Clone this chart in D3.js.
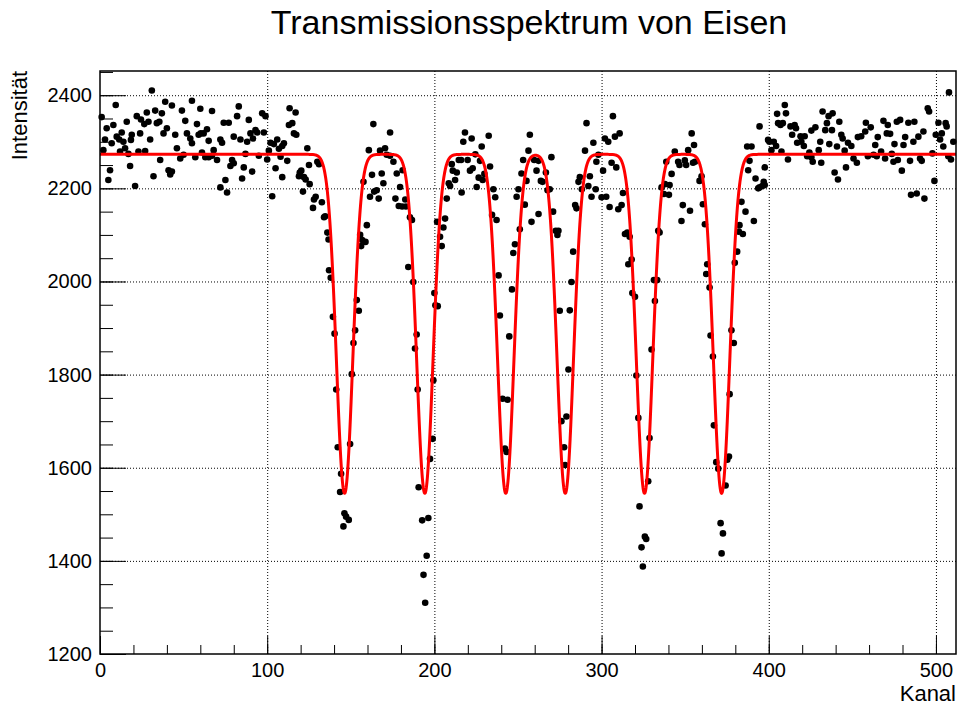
<!DOCTYPE html>
<html>
<head>
<meta charset="utf-8">
<script src="https://cdn.jsdelivr.net/npm/d3@7/dist/d3.min.js"></script>
<style>
  html, body { margin: 0; padding: 0; background: #fff; }
  svg { display: block; }
  text { font-family: "Liberation Sans", Arial, Helvetica, sans-serif; fill: #000; }
</style>
</head>
<body>
<svg id="chart" width="960" height="709"></svg>
<script>
// Measured spectrum: channel number and counts
const kanal = [
  1,2,3,4,5,6,7,8,9.4,10,11.5,12,13,14,15,16,17,18,18.5,19,21,22,23,24,24.5,26.5,27,28,29,30,
  31,32,33,34,35.5,36,37,38,39,40,41,42,43,43,45,46,48,49,50,51,52,54,55,55,57,58,59,60,60.3,61,
  62,63,64,65,65,67,67,68,70,72,72,73,74,75,76,77,78,79,80,80,82,83,84,85,86,
  87,88,89,90,91,91.5,93,94,95,97,98,99,100,101,102,103,104,105,106,107,108,109,109,110,112,113,113.4,
  115,116,117,117.4,119,119.5,120.4,121.4,122,123,124,125,125.4,127.4,128,129,130,131,132.7,134,134.7,
  136,136.7,137,138,
  139.3,140.3,141.3,142.2,143.6,144.2,145.6,146.2,147.2,148.8,149.6,150.6,151.6,152.6,153.6,154.8,
  155.6,156.2,156.8,157.6,158.8,159.6,160.8,161.5,162.7,163.5,164,165.5,166.7,167.5,168.5,169.5,
  170.5,171.5,173.5,173.5,175.5,176.7,177.5,178.7,179.5,180.7,181,182.6,183,184.4,185.4,186.6,
  187.4,188.4,189.4,190,190.6,
  192.7,193.5,194.5,195.4,196.4,197.4,199,199.4,200,200.6,201.6,202,203.4,204.4,205.4,206.4,207.4,
  208.6,209.4,210.4,211,212.4,213.4,214.6,216,216.3,217.3,218.3,219.9,221.3,222.3,222.9,224.5,225.3,
  226.5,227.3,228.3,228.9,229.9,232.5,233.3,234.5,235.3,236.4,237.2,238.4,239.2,240.8,242.2,243.2,
  243.8,244.8,
  246.4,247.2,248.2,249.2,250.3,251.1,252.1,253.1,254.1,255.1,256.3,257.1,258.1,259.7,261.1,262.3,
  262.3,263.7,264.7,266.7,267.7,269,270,271,272.6,273.6,274.2,275,276,277.6,278.2,279,280.2,281,282,
  283,284.2,285,286.2,287,288.2,290.1,291,292.1,293,294,295.1,296.5,296.9,298.1,
  300,300.9,302,302.8,304,304.8,306,306.8,308,308.8,310,310.8,312,312.8,314,315.4,316,316.8,318,318.4,
  320,320.8,322,322.7,323.9,324.7,325.9,326.7,327.9,328.7,329.9,331.3,331.9,333.3,333.9,334.7,335.9,
  337.3,337.9,338.7,340.3,340.7,341.9,343.8,345.8,346.6,347.8,348.6,349.8,350.6,351.8,
  352.9,353.9,354.7,355.3,355.9,358.6,359.8,360.6,361.8,362.6,363.2,364.6,365.2,366.6,367.2,368.6,
  369.8,371.2,371.8,372.6,374.2,375.2,376.2,376.6,377.7,379.1,379.7,381.1,382.1,382.5,383.7,384.5,
  386.1,387.1,387.7,388.5,389.7,391.1,392.1,393.7,394.5,394.5,396.1,397,397.6,397.6,399.6,400.4,
  401.6,403,404.4,405,405.6,
  407,407.6,408.4,409.6,410.3,411.5,413,414,415.5,416.3,417,419,419.5,421,421.5,423,424.3,425.5,425.5,
  426.3,427.9,429.9,430.8,431.4,432.2,433.8,434.8,435.8,436.2,437.8,438.2,439.4,440.8,441.4,442.2,
  443.4,444.2,445.4,446.2,447.4,449.4,450.7,452.7,453.3,455.3,457.7,458.1,459.3,
  461,462.7,463.7,464.6,465.2,467.2,468.6,469.6,470.6,471.2,472.6,473.6,474.6,475.2,476.6,477.2,
  478.6,479.6,480.6,481.6,483.5,484.5,485.1,486.5,487.1,488.5,489.5,490.5,491.5,492.5,493.1,495.1,
  495.9,497.9,499.1,499.9,501.5,502.5,503.5,504.4,505.8,506.4,507.4,507.8,509,510.4
];
const intensitaet = [
  2353,2282,2305,2329,2218,2239,2297,2336,2379,2311,2305,2279,2320,2300,2286,2343,2274,2248,2304,2315,
  2205,2355,2279,2318,2348,2338,2280,2363,2343,2305,
  2410,2226,2367,2340,2343,2261,2361,2318,2386,2329,2239,2230,2378,2236,2315,2286,2264,2367,2272,2345,
  2318,2307,2388,2297,2267,2338,2315,2371,2318,2277,
  2318,2267,2327,2302,2267,2366,2270,2282,2261,2305,2202,2298,2341,2218,2191,2341,2248,2261,2311,2254,
  2355,2376,2305,2221,2245,
  2274,2300,2347,2318,2236,2307,2325,2320,2270,2361,2320,2355,2262,2281,2298,2183,2295,2243,2305,2285,
  2268,2291,2224,2297,2259,2336,2372,
  2340,2318,2363,2315,2226,2234,2238,2193,2224,2219,2286,2250,2209,2158,2176,2182,2257,2252,2170,2138,
  2140,
  2105,2090,2024,2008,
  1924,1888,1768,1644,1548,1587,1474,1502,1495,1488,1651,1801,1868,1895,1960,1937,
  2100,2076,2089,2214,2085,2121,2282,2182,2229,2338,2193,2196,2178,2281,2232,2211,
  2286,2272,2270,2320,2257,2178,2232,2162,2203,2161,2239,2176,2161,2031,2138,2132,
  1999,1856,1886,1768,1558,
  1487,1370,1310,1411,1492,1619,1662,1788,1975,1949,2128,1947,2096,2076,2116,2135,2178,
  2211,2205,2252,2238,2218,2234,2261,2261,2191,2300,2320,2261,2238,2307,2243,2273,2203,
  2223,2259,2290,2218,2231,2313,2247,2143,2198,2181,2132,2013,1927,1748,1641,1634,
  1746,1882,
  1983,2061,2080,2182,2198,2112,2232,2261,2165,2216,2281,2315,2128,2261,2238,2145,
  2259,2216,2214,2234,2196,2198,2267,2150,2109,2100,2109,1937,1700,1644,1606,1710,1811,1938,1999,
  2064,2164,2157,2214,2224,2198,2281,2340,2205,2226,2182,2298,2198,2257,2272,
  2181,2238,2307,2182,2300,2160,2255,2355,2311,2245,2155,2318,2164,2190,2102,2105,2037,2096,2047,1975,
  1967,1798,1707,1517,1429,1388,1452,1447,1571,1664,1854,2003,1958,2003,2109,2105,2202,
  2188,2209,2257,2186,2207,2231,2279,2257,2250,2130,2164,2260,2250,2282,
  2152,2318,2255,2293,2257,2216,2226,2166,2123,2016,2037,1987,1884,1839,1691,1612,
  1598,1481,1416,1459,1562,1617,1624,1758,1895,1868,2040,2064,2107,2121,2171,2102,
  2150,2290,2239,2259,2290,2130,2221,2200,2202,2333,2205,2214,2207,2245,2304,2300,
  2282,2300,2291,2360,2340,
  2336,2279,2340,2379,2361,2262,2333,2315,2336,2329,2298,2312,2300,2291,2312,2269,2277,2267,2324,
  2257,2331,2282,2300,2255,2365,2325,2340,2355,2295,2325,2361,2234,2290,2219,2343,
  2315,2307,2281,2245,2298,2291,2264,2255,2310,2312,2322,2341,2269,
  2331,2272,2293,2269,2310,2279,2345,2264,2318,2336,2317,2274,2257,2295,2343,2261,
  2347,2238,2293,2310,2341,2259,2186,2300,2343,2189,2311,2264,2259,2322,2178,2372,
  2365,2275,2216,2315,2341,2305,2318,2290,2340,2333,2269,2406,2262,2300
];

// Axis ticks
const xMajorTicks = [0, 100, 200, 300, 400, 500];
const xMinorTicks = d3.range(0, 512, 20);
const yMajorTicks = [1200, 1400, 1600, 1800, 2000, 2200, 2400];
const yMinorTicks = d3.range(1200, 2452, 50);

// Fit result: flat background with six Gaussian absorption lines
const fitBaseline = 2273;
const lineCenters = [146.3, 194.3, 242.7, 278.3, 325.7, 371.8];
const lineDepths  = [728, 728, 728, 728, 728, 728];
const lineSigmas  = [4.9, 4.9, 4.9, 4.9, 4.9, 4.9];

const titleText = "Transmissionsspektrum von Eisen";
const xTitle = "Kanal";
const yTitle = "Intensität";

const svg = d3.select("#chart");
const frameLeft = 100, frameRight = 956, frameTop = 71, frameBottom = 654;

const x = d3.scaleLinear().domain([0, 512]).range([frameLeft, frameRight]);
const y = d3.scaleLinear().domain([1200, 2452]).range([frameBottom, frameTop]);

// Grid (dotted, at major ticks)
const grid = svg.append("g").attr("class", "grid");
grid.append("g")
  .attr("transform", `translate(0,${frameBottom})`)
  .call(d3.axisBottom(x).tickValues(xMajorTicks.filter(d => d > 0))
    .tickSize(-(frameBottom - frameTop)).tickFormat(""))
  .call(g => g.select(".domain").remove());
grid.append("g")
  .attr("transform", `translate(${frameLeft},0)`)
  .call(d3.axisLeft(y).tickValues(yMajorTicks.filter(d => d > 1200))
    .tickSize(-(frameRight - frameLeft)).tickFormat(""))
  .call(g => g.select(".domain").remove());
grid.selectAll("line")
  .attr("stroke", "#000").attr("stroke-width", 1).attr("stroke-dasharray", "1,2");

// Data points
const points = kanal.map((k, i) => [k, intensitaet[i]]).filter(d => d[1] !== undefined);
svg.append("g").selectAll("circle")
  .data(points)
  .join("circle")
  .attr("cx", d => x(d[0]))
  .attr("cy", d => y(d[1]))
  .attr("r", 3.3)
  .attr("fill", "#000");

// Fit curve
const fitFn = k => fitBaseline - d3.sum(lineCenters, (c, i) =>
  lineDepths[i] * Math.exp(-0.5 * Math.pow((k - c) / lineSigmas[i], 2)));
const samples = d3.range(0, 512.001, 0.2);
svg.append("path")
  .datum(samples)
  .attr("fill", "none")
  .attr("stroke", "#ff0000")
  .attr("stroke-width", 3)
  .attr("stroke-linejoin", "round")
  .attr("d", d3.line().x(k => x(k)).y(k => y(fitFn(k))));

// Axes with inward ticks
const xAxisG = svg.append("g").attr("transform", `translate(0,${frameBottom})`);
xAxisG.append("g")
  .call(d3.axisBottom(x).tickValues(xMinorTicks).tickSize(-9).tickFormat(""))
  .call(g => g.select(".domain").remove());
xAxisG.append("g")
  .call(d3.axisBottom(x).tickValues(xMajorTicks).tickSize(-18).tickPadding(9).tickFormat(d3.format("d")))
  .call(g => g.select(".domain").remove())
  .call(g => g.selectAll("text").attr("font-size", 20).attr("fill", "#000"));

const yAxisG = svg.append("g").attr("transform", `translate(${frameLeft},0)`);
yAxisG.append("g")
  .call(d3.axisLeft(y).tickValues(yMinorTicks).tickSize(-13).tickFormat(""))
  .call(g => g.select(".domain").remove());
yAxisG.append("g")
  .call(d3.axisLeft(y).tickValues(yMajorTicks).tickSize(-26).tickPadding(8).tickFormat(d3.format("d")))
  .call(g => g.select(".domain").remove())
  .call(g => g.selectAll("text").attr("font-size", 20).attr("fill", "#000"));

xAxisG.selectAll(".tick line").attr("stroke", "#000").attr("stroke-width", 1);
yAxisG.selectAll(".tick line").attr("stroke", "#000").attr("stroke-width", 1);

// Frame
svg.append("rect")
  .attr("x", frameLeft).attr("y", frameTop)
  .attr("width", frameRight - frameLeft).attr("height", frameBottom - frameTop)
  .attr("fill", "none").attr("stroke", "#000").attr("stroke-width", 1.5);

// Titles
svg.append("text")
  .attr("x", 529).attr("y", 34)
  .attr("text-anchor", "middle")
  .attr("font-size", 34)
  .text(titleText);

svg.append("text")
  .attr("x", frameRight).attr("y", 701)
  .attr("text-anchor", "end")
  .attr("font-size", 22)
  .text(xTitle);

svg.append("text")
  .attr("transform", `translate(27,${frameTop}) rotate(-90)`)
  .attr("text-anchor", "end")
  .attr("font-size", 22)
  .text(yTitle);
</script>
</body>
</html>
